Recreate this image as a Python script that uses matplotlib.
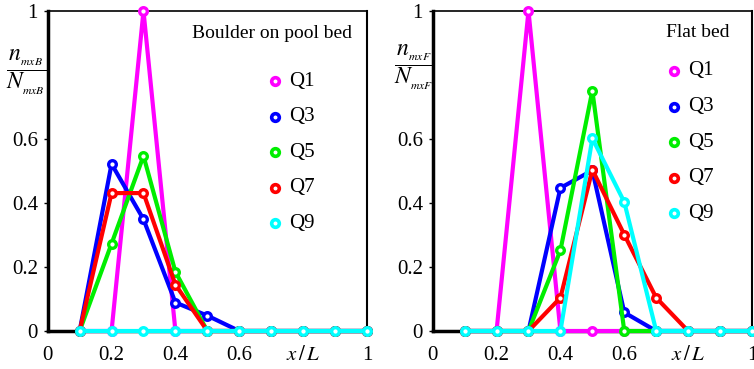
import matplotlib
matplotlib.use('Agg')
import matplotlib.pyplot as plt

plt.rcParams['font.family'] = ['Liberation Serif', 'DejaVu Serif']
plt.rcParams['mathtext.fontset'] = 'stix'

x = [0.1, 0.2, 0.3, 0.4, 0.5, 0.6, 0.7, 0.8, 0.9, 1.0]
labels = ['Q1', 'Q3', 'Q5', 'Q7', 'Q9']
colors = ['#ff00ff', '#0000ff', '#00ee00', '#ff0000', '#00ffff']

# boulder on pool bed
boulder = {
    'Q1': [0, 0, 1.0, 0, 0, 0, 0, 0, 0, 0],
    'Q3': [0, 0.522, 0.349, 0.089, 0.048, 0, 0, 0, 0, 0],
    'Q5': [0, 0.273, 0.547, 0.185, 0, 0, 0, 0, 0, 0],
    'Q7': [0, 0.431, 0.431, 0.145, 0, 0, 0, 0, 0, 0],
    'Q9': [0, 0, 0, 0, 0, 0, 0, 0, 0, 0],
}
# flat bed
flat = {
    'Q1': [0, 0, 1.0, 0, 0, 0, 0, 0, 0, 0],
    'Q3': [0, 0, 0, 0.447, 0.502, 0.058, 0, 0, 0, 0],
    'Q5': [0, 0, 0, 0.252, 0.751, 0, 0, 0, 0, 0],
    'Q7': [0, 0, 0, 0.104, 0.504, 0.301, 0.104, 0, 0, 0],
    'Q9': [0, 0, 0, 0, 0.602, 0.403, 0, 0, 0, 0],
}

xticks = [0, 0.2, 0.4, 0.6, 0.8, 1]
xticklabels = ['0', '0.2', '0.4', '0.6', r'$x\,/\,L$', '1']
yticks = [0, 0.2, 0.4, 0.6, 1]
yticklabels = ['0', '0.2', '0.4', '0.6', '1']

fig = plt.figure(figsize=(7.54, 3.69), dpi=100)
ax1 = fig.add_axes([47.7 / 754, 38 / 369, 319.3 / 754, 320 / 369])
ax2 = fig.add_axes([432.7 / 754, 38 / 369, 319.3 / 754, 320 / 369])


def panel(ax, data, title, ylab, tpos, legx, legy, fracpos):
    for i, q in enumerate(labels):
        ax.plot(x, data[q], color=colors[i], lw=3, marker='o', ms=5.5,
                mfc='white', mec=colors[i], mew=2.4, clip_on=False, zorder=3 + i)
    ax.set_xlim(0, 1)
    ax.set_ylim(0, 1)
    ax.set_xticks(xticks)
    ax.set_xticklabels(xticklabels, fontsize=15)
    ax.set_yticks(yticks)
    ax.set_yticklabels(yticklabels, fontsize=15)
    ax.tick_params(axis='y', direction='out', length=3, width=1, pad=4)
    ax.tick_params(axis='x', direction='in', length=3, width=1, pad=11)
    ax.spines['left'].set_linewidth(2.5)
    ax.spines['bottom'].set_linewidth(2.5)
    ax.spines['top'].set_linewidth(1.2)
    ax.spines['right'].set_linewidth(1.5)
    ax.text(tpos[0], tpos[1], title, transform=ax.transAxes, ha='right',
            va='center', fontsize=14)
    for i, q in enumerate(labels):
        yy = legy - i * 0.111
        ax.plot([legx], [yy], transform=ax.transAxes, ls='none', marker='o',
                ms=5.5, mfc='white', mec=colors[i], mew=2.6, clip_on=False)
        ax.text(legx + 0.045, yy, q, transform=ax.transAxes, ha='left',
                va='center', fontsize=15)
    ax.text(fracpos[0], fracpos[1], ylab, transform=ax.transAxes,
            ha='center', va='center', fontsize=17)


panel(ax1, boulder, 'Boulder on pool bed', r'$\dfrac{n_{_{mxB}}}{N_{_{mxB}}}$',
      (0.953, 0.931), 0.712, 0.781, (-0.065, 0.81))
panel(ax2, flat, 'Flat bed', r'$\dfrac{n_{_{mxF}}}{N_{_{mxF}}}$',
      (0.928, 0.934), 0.756, 0.8125, (-0.058, 0.825))

fig.savefig('out.png', dpi=100)
